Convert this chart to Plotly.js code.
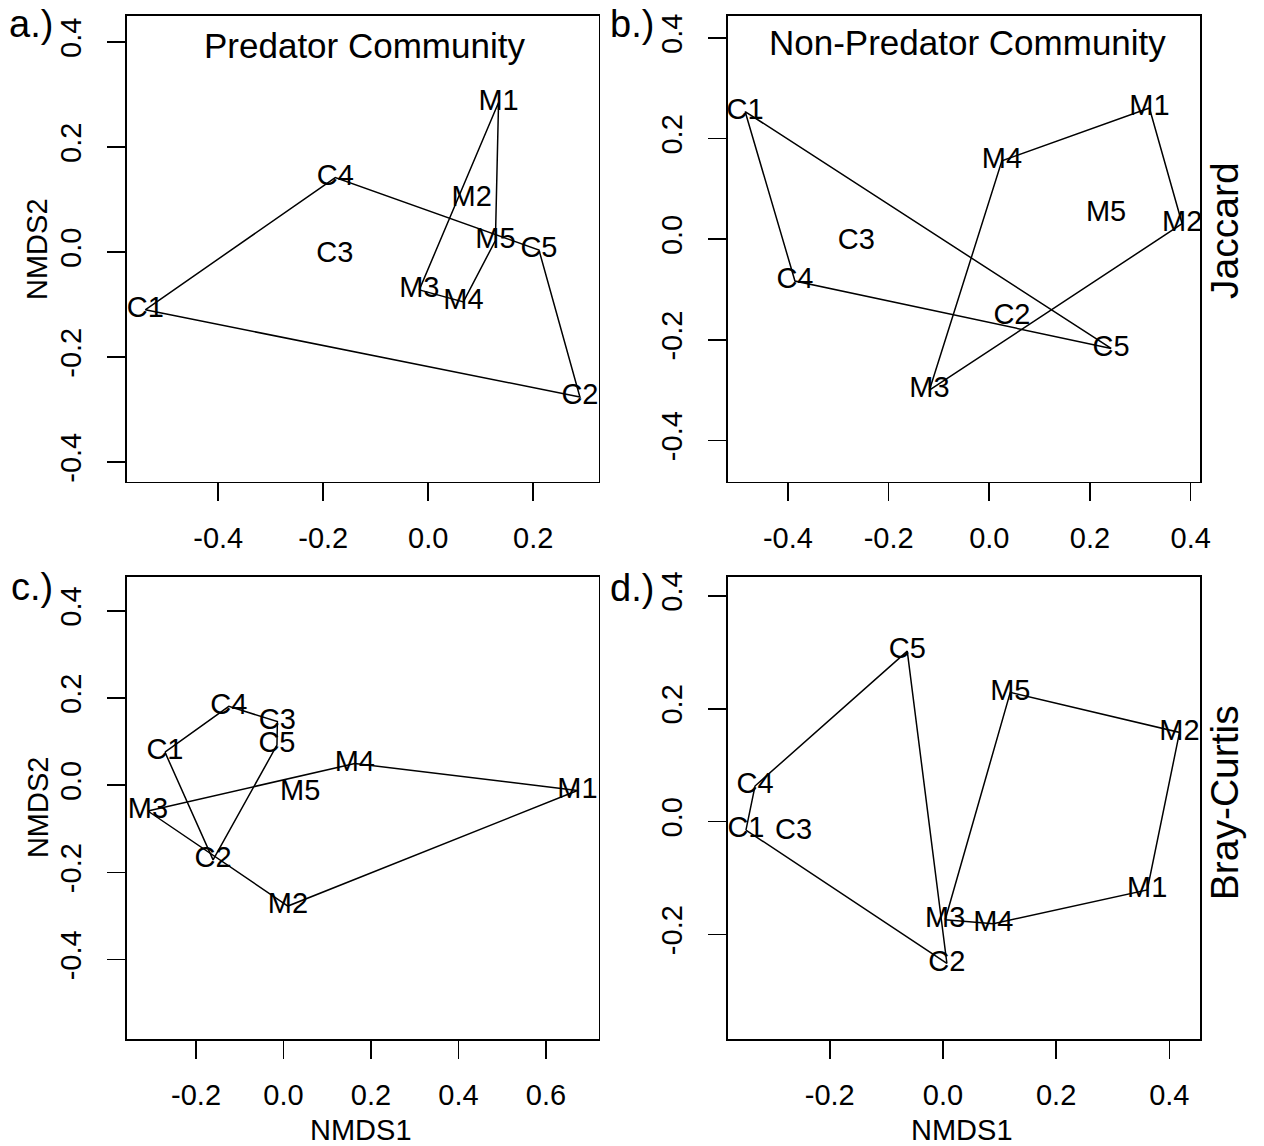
<!DOCTYPE html>
<html>
<head>
<meta charset="utf-8">
<script src="https://cdn.plot.ly/plotly-3.0.1.min.js"></script>
<style>html,body{margin:0;padding:0;background:#fff;}#plot{width:1264px;height:1146px;}</style>
</head>
<body>
<div id="plot"></div>
<script>
// ---- data (NMDS scores) ----
const sites = ['C1','C2','C3','C4','C5','M1','M2','M3','M4','M5'];
const groupC = [0,1,2,3,4];
const groupM = [5,6,7,8,9];

// a.) Predator community, Jaccard
const predJacX = [-0.539, 0.289, -0.178, -0.177, 0.211, 0.134, 0.083, -0.017, 0.067, 0.128];
const predJacY = [-0.110, -0.276, -0.006, 0.142, 0.004, 0.285, 0.101, -0.072, -0.095, 0.022];
// b.) Non-predator community, Jaccard
const nonJacX = [-0.485, 0.045, -0.264, -0.386, 0.242, 0.318, 0.383, -0.119, 0.025, 0.232];
const nonJacY = [0.254, -0.153, -0.004, -0.083, -0.217, 0.261, 0.031, -0.300, 0.156, 0.050];
// c.) Predator community, Bray-Curtis
const predBrayX = [-0.271, -0.161, -0.014, -0.125, -0.015, 0.672, 0.010, -0.310, 0.163, 0.038];
const predBrayY = [0.076, -0.171, 0.146, 0.181, 0.092, -0.012, -0.277, -0.059, 0.050, -0.018];
// d.) Non-predator community, Bray-Curtis
const nonBrayX = [-0.348, 0.007, -0.264, -0.332, -0.063, 0.361, 0.418, 0.004, 0.089, 0.119];
const nonBrayY = [-0.015, -0.251, -0.018, 0.063, 0.302, -0.121, 0.158, -0.174, -0.181, 0.229];

// tick values / labels
const ticksA_x = [-0.4, -0.2, 0, 0.2];            const ticksA_xt = ['-0.4','-0.2','0.0','0.2'];
const ticksB_x = [-0.4, -0.2, 0, 0.2, 0.4];       const ticksB_xt = ['-0.4','-0.2','0.0','0.2','0.4'];
const ticksC_x = [-0.2, 0, 0.2, 0.4, 0.6];        const ticksC_xt = ['-0.2','0.0','0.2','0.4','0.6'];
const ticksD_x = [-0.2, 0, 0.2, 0.4];             const ticksD_xt = ['-0.2','0.0','0.2','0.4'];
const ticksY = [-0.4, -0.2, 0, 0.2, 0.4];         const ticksYt = ['-0.4','-0.2','0.0','0.2','0.4'];
const ticksD_y = [-0.2, 0, 0.2, 0.4];             const ticksD_yt = ['-0.2','0.0','0.2','0.4'];

// ---- helpers ----
function hull(idx, xs, ys) {
  const pts = idx.map(i => [xs[i], ys[i]]).sort((p, q) => p[0] - q[0] || p[1] - q[1]);
  const cross = (o, a, b) => (a[0]-o[0])*(b[1]-o[1]) - (a[1]-o[1])*(b[0]-o[0]);
  const lower = [], upper = [];
  for (const p of pts) { while (lower.length >= 2 && cross(lower[lower.length-2], lower[lower.length-1], p) <= 0) lower.pop(); lower.push(p); }
  for (let i = pts.length - 1; i >= 0; i--) { const p = pts[i]; while (upper.length >= 2 && cross(upper[upper.length-2], upper[upper.length-1], p) <= 0) upper.pop(); upper.push(p); }
  upper.pop(); lower.pop();
  const h = lower.concat(upper); h.push(h[0]);
  return h;
}

const FONT = 'Liberation Sans, Arial, Helvetica, sans-serif';
const traces = [];
function panel(xs, ys, n) {
  const xa = n === 1 ? 'x' : 'x' + n, ya = n === 1 ? 'y' : 'y' + n;
  [groupC, groupM].forEach(g => {
    const h = hull(g, xs, ys);
    traces.push({type: 'scatter', mode: 'lines', x: h.map(p => p[0]), y: h.map(p => p[1]),
      xaxis: xa, yaxis: ya, line: {color: '#000', width: 1.5}, hoverinfo: 'skip', showlegend: false});
  });
  traces.push({type: 'scatter', mode: 'text', x: xs, y: ys, text: sites, textposition: 'middle center',
    textfont: {family: FONT, size: 29, color: '#000'}, xaxis: xa, yaxis: ya, showlegend: false});
}
panel(predJacX, predJacY, 1);
panel(nonJacX, nonJacY, 2);
panel(predBrayX, predBrayY, 3);
panel(nonBrayX, nonBrayY, 4);

const W = 1264, H = 1146;
const px = v => v / W, py = v => 1 - v / H;

function xax(domain, range, tv, tt, anchor) {
  return {domain, range, anchor, tickmode: 'array', tickvals: tv, ticktext: tt,
    ticks: 'outside', ticklen: 18, tickwidth: 1.6, tickcolor: '#000',
    ticklabelstandoff: 12,
    showline: true, mirror: true, linecolor: '#000', linewidth: 1.8,
    showgrid: false, zeroline: false, tickfont: {family: FONT, size: 29, color: '#000'}};
}
function yax(domain, range, tv, tt, anchor) {
  const a = xax(domain, range, tv, tt, anchor);
  a.tickangle = -90;
  a.ticklabelstandoff = 14;
  return a;
}

const colL = [px(126.5), px(598.5)], colR = [px(727.5), px(1200)];
const rowT = [py(481.5), py(16)], rowB = [py(1038.7), py(576.5)];

const ann = (text, x, y, size, angle) => ({text, x: px(x), y: py(y), xref: 'paper', yref: 'paper',
  showarrow: false, xanchor: 'center', yanchor: 'middle', textangle: angle || 0,
  font: {family: FONT, size, color: '#000'}});

const layout = {
  width: W, height: H, margin: {l: 0, r: 0, t: 0, b: 0},
  paper_bgcolor: '#fff', plot_bgcolor: '#fff', showlegend: false,
  xaxis:  xax(colL, [-0.5747, 0.3244], ticksA_x, ticksA_xt, 'y'),
  yaxis:  yax(rowT, [-0.4370, 0.4497], ticksY, ticksYt, 'x'),
  xaxis2: xax(colR, [-0.520, 0.4185], ticksB_x, ticksB_xt, 'y2'),
  yaxis2: yax(rowT, [-0.4815, 0.4439], ticksY, ticksYt, 'x2'),
  xaxis3: xax(colL, [-0.3589, 0.7200], ticksC_x, ticksC_xt, 'y3'),
  yaxis3: yax(rowB, [-0.5812, 0.4788], ticksY, ticksYt, 'x3'),
  xaxis4: xax(colR, [-0.3806, 0.4542], ticksD_x, ticksD_xt, 'y4'),
  yaxis4: yax(rowB, [-0.3846, 0.4342], ticksD_y, ticksD_yt, 'x4'),
  annotations: [
    ann('a.)', 31, 24, 38), ann('b.)', 632, 24, 38),
    ann('c.)', 32, 587, 38), ann('d.)', 632, 588, 38),
    ann('Predator Community', 364.5, 46, 35),
    ann('Non-Predator Community', 967.6, 43, 35),
    ann('NMDS2', 37, 249, 29, -90), ann('NMDS2', 37.6, 807.5, 29, -90),
    ann('NMDS1', 361, 1130, 29), ann('NMDS1', 962, 1130, 29),
    ann('Jaccard', 1224.5, 230.4, 39, -90), ann('Bray-Curtis', 1224, 803.3, 39, -90)
  ]
};

Plotly.newPlot('plot', traces, layout, {staticPlot: true, displayModeBar: false});
</script>
</body>
</html>
